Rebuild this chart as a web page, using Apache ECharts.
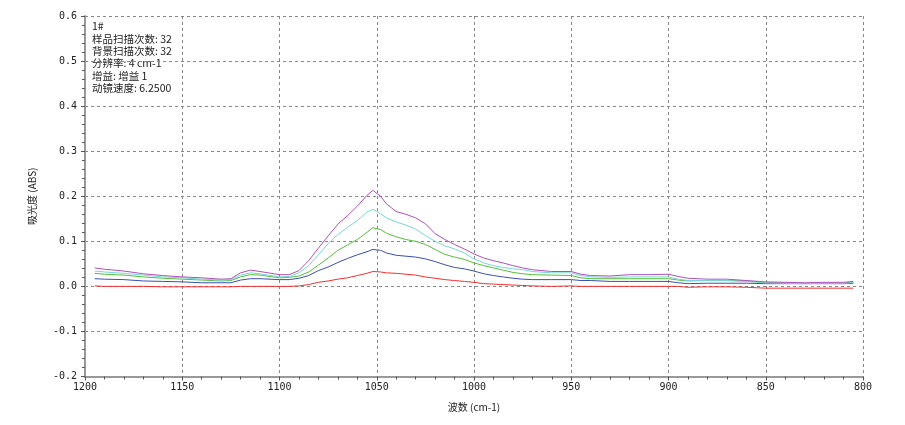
<!DOCTYPE html>
<html><head><meta charset="utf-8">
<script src="https://cdn.jsdelivr.net/npm/echarts@6/dist/echarts.min.js"></script>
<style>html,body{margin:0;padding:0;background:#fff;}#c{width:905px;height:425px;}</style>
</head><body><div id="c"></div>
<script>
const wavenumbers = [1195,1190,1180,1170,1160,1150,1140,1130,1125,1120,1115,1110,1100,1095,1090,1085,1080,1075,1070,1065,1060,1055,1052,1048,1045,1040,1035,1030,1025,1020,1015,1010,1005,1000,995,990,985,980,975,970,960,950,945,940,930,920,910,900,895,890,880,870,860,850,840,830,820,810,805];
const purpleVals = [0.041,0.038,0.034,0.028,0.024,0.021,0.019,0.016,0.017,0.030,
0.036,0.033,0.026,0.026,0.035,0.057,0.085,0.112,0.138,0.157,
0.178,0.202,0.213,0.200,0.183,0.166,0.160,0.152,0.139,0.117,
0.104,0.093,0.083,0.072,0.063,0.057,0.052,0.046,0.041,0.037,
0.033,0.033,0.027,0.024,0.023,0.026,0.026,0.027,0.022,0.018,
0.016,0.016,0.013,0.010,0.009,0.008,0.009,0.009,0.011];
const cyanVals = [0.034,0.032,0.029,0.025,0.021,0.019,0.016,0.014,0.015,0.025,
0.030,0.028,0.021,0.022,0.030,0.046,0.070,0.095,0.115,0.131,
0.146,0.165,0.171,0.161,0.152,0.143,0.136,0.127,0.113,0.100,
0.090,0.083,0.074,0.061,0.052,0.046,0.042,0.039,0.037,0.033,
0.030,0.030,0.024,0.021,0.020,0.021,0.021,0.021,0.016,0.013,
0.013,0.013,0.011,0.008,0.007,0.006,0.007,0.007,0.009];
const greenVals = [0.029,0.027,0.025,0.021,0.018,0.016,0.014,0.012,0.013,0.021,
0.026,0.025,0.019,0.020,0.023,0.032,0.047,0.063,0.080,0.092,
0.104,0.120,0.130,0.126,0.118,0.110,0.104,0.100,0.093,0.082,
0.071,0.065,0.060,0.052,0.046,0.041,0.036,0.031,0.028,0.026,
0.025,0.024,0.019,0.017,0.017,0.017,0.017,0.017,0.014,0.012,
0.013,0.013,0.012,0.008,0.008,0.007,0.007,0.007,0.009];
const blueVals = [0.017,0.016,0.015,0.012,0.011,0.010,0.008,0.008,0.008,0.014,
0.017,0.017,0.015,0.015,0.018,0.024,0.035,0.043,0.053,0.062,
0.070,0.077,0.082,0.080,0.074,0.069,0.067,0.065,0.061,0.055,
0.048,0.042,0.039,0.034,0.028,0.024,0.021,0.018,0.016,0.015,
0.015,0.015,0.013,0.013,0.011,0.011,0.011,0.011,0.008,0.006,
0.007,0.007,0.007,0.006,0.006,0.006,0.006,0.006,0.007];
const redVals = [0.001,0.000,0.000,0.000,-0.001,-0.001,-0.001,-0.001,-0.001,0.000,
0.000,0.000,0.000,0.000,0.001,0.004,0.009,0.012,0.016,0.019,
0.024,0.029,0.033,0.032,0.030,0.029,0.027,0.025,0.021,0.018,
0.015,0.013,0.011,0.009,0.006,0.005,0.004,0.003,0.002,0.001,
0.000,0.001,0.000,0.000,0.000,0.000,0.000,0.000,0.000,-0.002,
-0.001,-0.001,-0.002,-0.004,-0.004,-0.004,-0.004,-0.004,-0.004];
const infoLines = ['1#','样品扫描次数: 32','背景扫描次数: 32','分辨率: 4 cm-1','增益: 增益 1','动镜速度: 6.2500'];
const xName = '波数 (cm-1)';
const yName = '吸光度 (ABS)';

const seriesDefs = [
  {name:'red', vals:redVals, color:'#f03030'},
  {name:'blue', vals:blueVals, color:'#3a4fb0'},
  {name:'green', vals:greenVals, color:'#55bf3a'},
  {name:'cyan', vals:cyanVals, color:'#78d6d6'},
  {name:'purple', vals:purpleVals, color:'#b050bc'}
];
const chart = echarts.init(document.getElementById('c'));
const lbl = {fontFamily:'DejaVu Sans Mono', fontSize:10, color:'#222'};
chart.setOption({
  animation:false,
  grid:{left:85, right:42, top:16, bottom:48.5},
  xAxis:{type:'value', inverse:true, min:800, max:1200, interval:50,
    name:xName, nameLocation:'middle', nameGap:26,
    nameTextStyle:{fontFamily:'Noto Sans CJK SC', fontSize:10, color:'#222'},
    axisLine:{show:true, onZero:false, lineStyle:{color:'#999', width:2}},
    axisTick:{show:true, length:4, lineStyle:{color:'#555'}},
    minorTick:{show:true, splitNumber:5, length:3, lineStyle:{color:'#555'}},
    axisLabel:Object.assign({margin:6, formatter:v=>String(v)}, lbl),
    splitLine:{show:true, lineStyle:{color:'#888', type:[3,3], width:1}}
  },
  yAxis:{type:'value', min:-0.2, max:0.6, interval:0.1,
    name:yName, nameLocation:'middle', nameGap:48,
    nameTextStyle:{fontFamily:'Noto Sans CJK SC', fontSize:10, color:'#222'},
    axisLine:{show:true, onZero:false, lineStyle:{color:'#999', width:2}},
    axisTick:{show:true, length:4, lineStyle:{color:'#555'}},
    minorTick:{show:true, splitNumber:5, length:3, lineStyle:{color:'#555'}},
    axisLabel:Object.assign({margin:8, formatter:v=>v.toFixed(1)}, lbl),
    splitLine:{show:true, lineStyle:{color:'#888', type:[3,3], width:1}}
  },
  graphic:[{type:'text', left:92, top:20,
    style:{text:infoLines.join('\n'), fontFamily:'Noto Sans CJK SC', fontSize:10.5, lineHeight:12.4, fill:'#222'}}],
  series:seriesDefs.map(s=>({
    type:'line', name:s.name, showSymbol:false, symbol:'none',
    lineStyle:{width:1, color:s.color}, itemStyle:{color:s.color},
    data:wavenumbers.map((w,i)=>[w, s.vals[i]])
  }))
});
</script></body></html>
